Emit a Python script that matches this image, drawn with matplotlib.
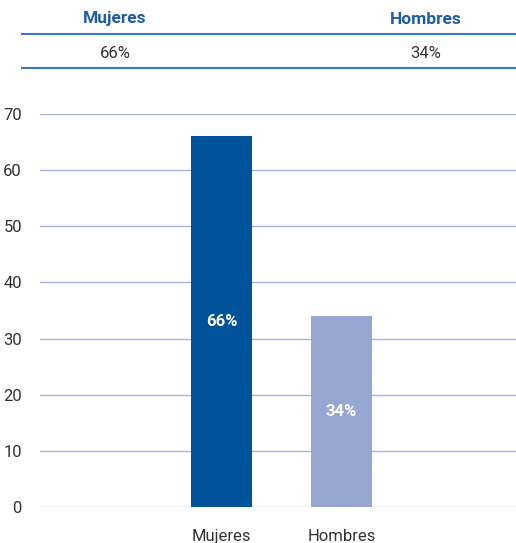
import matplotlib.pyplot as plt
from matplotlib import font_manager

# Data
categories = ['Mujeres', 'Hombres']
values = [66, 34]
labels = ['66%', '34%']
colours = ['#00529b', '#97a6d1']

names = {f.name for f in font_manager.fontManager.ttflist}
family = 'Liberation Sans Narrow' if 'Liberation Sans Narrow' in names else 'Roboto'
plt.rcParams['font.family'] = [family, 'DejaVu Sans']

fig = plt.figure(figsize=(5.16, 5.43), dpi=100)
W, H = 516, 543

# Header table
fig.text(115 / W, 1 - 19 / H, categories[0], color='#1f5ca8', fontsize=12.5,
         fontweight='bold', ha='center', va='center')
fig.text(426 / W, 1 - 19 / H, categories[1], color='#1f5ca8', fontsize=12.5,
         fontweight='bold', ha='center', va='center')
fig.text(115 / W, 1 - 53 / H, labels[0], color='#333333', fontsize=12,
         ha='center', va='center')
fig.text(426 / W, 1 - 53 / H, labels[1], color='#333333', fontsize=12,
         ha='center', va='center')
for yy in [34, 68]:
    fig.add_artist(plt.Line2D([22 / W, 1], [1 - yy / H, 1 - yy / H],
                              color='#3a78c0', lw=1.5))

# Bar chart
ax = fig.add_axes([40 / W, 1 - 507 / H, 476 / W, 393 / H])
x = list(range(len(categories)))
ax.bar(x, values, width=0.51, color=colours, zorder=3)
for i, v in enumerate(values):
    ax.text(i, v / 2, labels[i], color='white', fontsize=12, fontweight='bold',
            ha='center', va='center', zorder=4)

ax.set_ylim(0, 70)
ax.set_xlim(-1.5125, 2.454)
ax.set_yticks(range(0, 71, 10))
ax.yaxis.grid(True, color='#a7b3e0', lw=1)
ax.set_axisbelow(True)
for s in ax.spines.values():
    s.set_visible(False)
ax.tick_params(axis='both', length=0, labelsize=12, colors='#333333')
ax.tick_params(axis='y', pad=13)
ax.tick_params(axis='x', pad=16)
ax.set_xticks(x)
ax.set_xticklabels(categories)

fig.savefig('out.png', dpi=100)
